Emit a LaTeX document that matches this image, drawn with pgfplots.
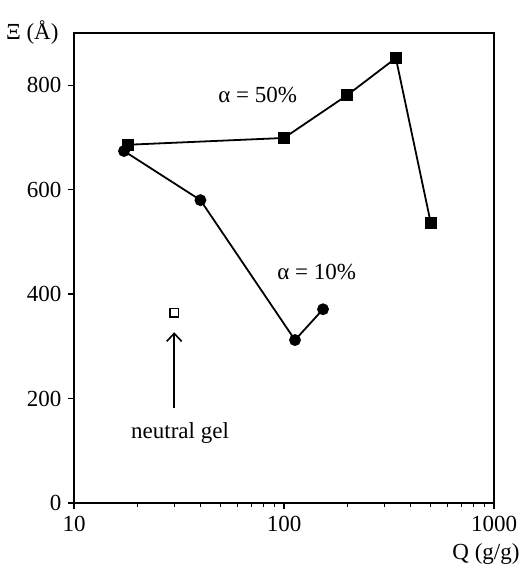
\documentclass[border=0pt]{standalone}
\usepackage{fontspec}
\setmainfont{Liberation Serif}
\usepackage{pgfplots}
\pgfplotsset{compat=1.18}
\usetikzlibrary{arrows.meta}
\begin{document}
\begin{tikzpicture}[font=\fontsize{23bp}{27bp}\selectfont]
\useasboundingbox (-74bp,-66bp) rectangle (451bp,503bp);
\begin{axis}[
  at={(0,0)}, anchor=south west,
  scale only axis, width=420bp, height=470bp,
  xmode=log, xmin=10, xmax=1000, ymin=0, ymax=900,
  xtick={10,100,1000}, xticklabels={10,100,1000},
  minor xtick={20,30,40,50,60,70,80,90,200,300,400,500,600,700,800,900},
  ytick={0,200,400,600,800}, minor ytick={},
  tick align=outside, xtick pos=lower, ytick pos=left,
  major tick length=6bp, minor tick length=3.5bp,
  axis line style={line width=1.6bp},
  every tick/.style={line width=1.3bp, black},
  /pgf/number format/assume math mode=true,
  tick label style={font=\fontsize{23bp}{27bp}\selectfont},
  yticklabel style={xshift=-3bp},
  xticklabel style={yshift=-4bp},
  clip=false,
]
\addplot[black, line width=1.8bp, mark=square*, mark size=5bp, mark options={solid}]
  coordinates {(18,686) (100,699) (200,781) (341,852) (500,536)};
\addplot[black, line width=1.8bp, mark=*, mark size=5bp]
  coordinates {(17.3,674) (40,580) (112.8,312) (153.4,371)};
\addplot[black, only marks, mark=square, mark size=4.2bp, mark options={line width=1.5bp}]
  coordinates {(30,364)};
\addplot[black, line width=1.6bp, -{Straight Barb[length=8bp,width=15bp,line width=1.6bp]}]
  coordinates {(30,182) (30,327)};
\node[font=\fontsize{23bp}{27bp}\selectfont] at (axis cs:75,781) {α = 50\%};
\node[font=\fontsize{23bp}{27bp}\selectfont] at (axis cs:143,442) {α = 10\%};
\node[font=\fontsize{23bp}{27bp}\selectfont] at (axis cs:32,134) {neutral gel};
\node[font=\fontsize{23bp}{27bp}\selectfont, anchor=east, xshift=-12bp] at (rel axis cs:0,1) {Ξ (Å)};
\node[font=\fontsize{23bp}{27bp}\selectfont, anchor=base east, xshift=29bp, yshift=-56bp] at (rel axis cs:1,0) {Q (g/g)};
\end{axis}
\end{tikzpicture}
\end{document}
